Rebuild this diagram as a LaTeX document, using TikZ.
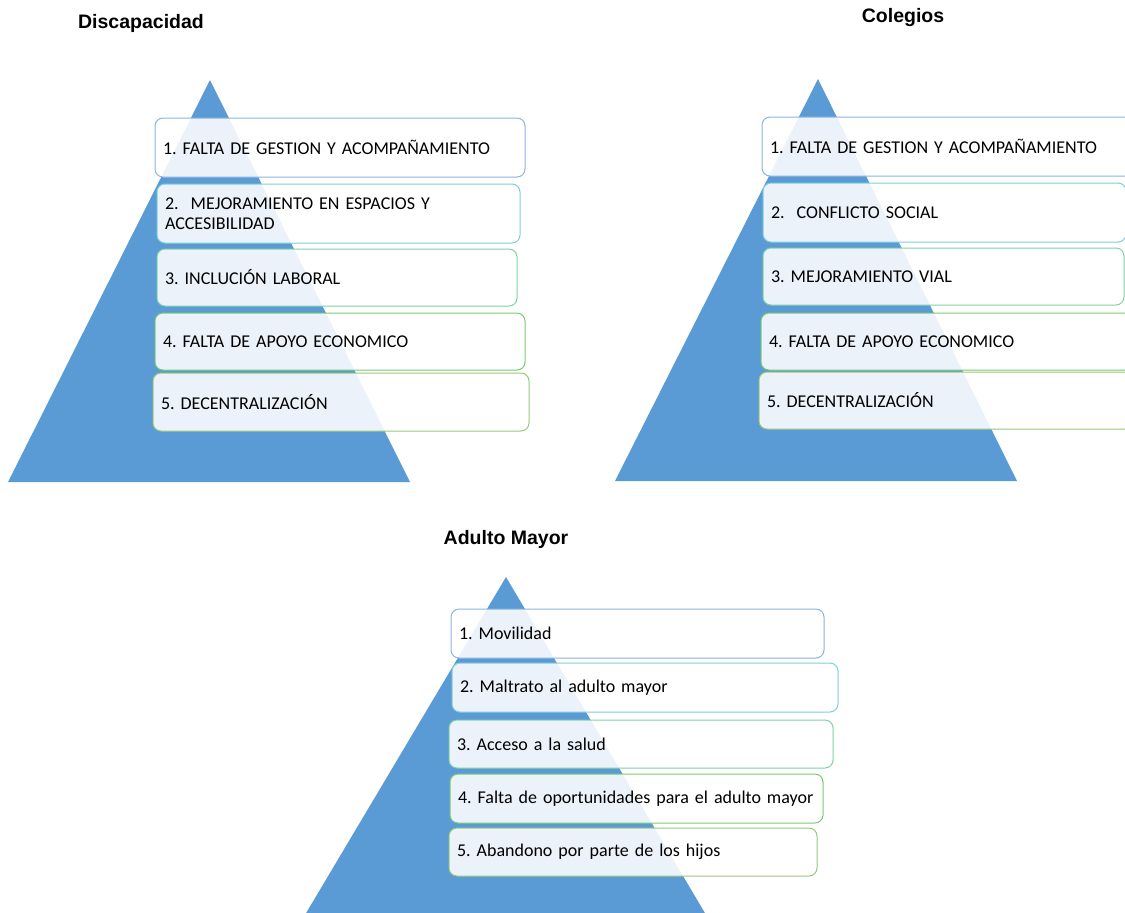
\documentclass[tikz,border=0pt]{standalone}
\usepackage{fontspec}
\setmainfont{Carlito}
\newfontfamily\titlefont{Liberation Sans}
\usetikzlibrary{positioning}
\definecolor{pyBlue}{HTML}{5B9BD5}
\definecolor{pyEdgeA}{HTML}{8DB3E2}
\definecolor{pyEdgeB}{HTML}{7FCFD8}
\definecolor{pyEdgeC}{HTML}{7DD3A6}
\definecolor{pyEdgeD}{HTML}{79CB72}
\definecolor{pyEdgeE}{HTML}{9AC87A}
\newcommand\pyboxfont{\fontsize{18}{20}\selectfont\frenchspacing\spaceskip=0.15em\relax}
\tikzset{
  py-tri/.style={fill=pyBlue, draw=none},
  py-box/.style={
    draw, line width=1pt, rounded corners=8pt,
    fill=white, fill opacity=0.88, text opacity=1,
    font=\pyboxfont, align=left, inner xsep=8pt, inner ysep=3pt
  },
  py-a/.style={py-box, draw=pyEdgeA},
  py-b/.style={py-box, draw=pyEdgeB},
  py-c/.style={py-box, draw=pyEdgeC},
  py-d/.style={py-box, draw=pyEdgeD},
  py-e/.style={py-box, draw=pyEdgeE},
  py-title/.style={font=\titlefont\bfseries\fontsize{19.5}{22}\selectfont}
}

\begin{document}
\begin{tikzpicture}[x=1pt, y=-1pt]
\useasboundingbox (0,0) rectangle (1125,913);
\clip (0,0) rectangle (1125,913);

% Discapacidad
\node[py-title] (tdis) at (141,23) {Discapacidad};
\fill[py-tri] (210,80) -- (410,482) -- (8,482) -- cycle;
\node[py-a, minimum width=370pt, minimum height=59pt, text width=354pt] (d1) at (340,147.5)
  {1. FALTA DE GESTION Y ACOMPAÑAMIENTO};
\node[py-b, minimum width=363pt, minimum height=59pt, text width=347pt] (d2) at (338.5,213.5)
  {2.\ \ MEJORAMIENTO EN ESPACIOS Y\\ACCESIBILIDAD};
\node[py-c, minimum width=360pt, minimum height=57pt, text width=344pt] (d3) at (337,277.5)
  {3. INCLUCIÓN LABORAL};
\node[py-d, minimum width=370pt, minimum height=57pt, text width=354pt] (d4) at (340,341.5)
  {4. FALTA DE APOYO ECONOMICO};
\node[py-e, minimum width=376pt, minimum height=58pt, text width=360pt] (d5) at (341,402)
  {5. DECENTRALIZACIÓN};

% Colegios
\node[py-title] (tcol) at (903,17) {Colegios};
\fill[py-tri] (818,79) -- (1017,481) -- (615,481) -- cycle;
\node[py-a, minimum width=372pt, minimum height=59pt, text width=356pt] (c1) at (948,146.5)
  {1. FALTA DE GESTION Y ACOMPAÑAMIENTO};
\node[py-b, minimum width=363pt, minimum height=59pt, text width=347pt] (c2) at (944.5,212.5)
  {2.\ \ CONFLICTO SOCIAL};
\node[py-c, minimum width=361pt, minimum height=57pt, text width=345pt] (c3) at (943.5,276.5)
  {3. MEJORAMIENTO VIAL};
\node[py-d, minimum width=372pt, minimum height=57pt, text width=356pt] (c4) at (947,341.5)
  {4. FALTA DE APOYO ECONOMICO};
\node[py-e, minimum width=374pt, minimum height=57pt, text width=358pt] (c5) at (946,400.5)
  {5. DECENTRALIZACIÓN};

% Adulto Mayor
\node[py-title] (tadm) at (506,539) {Adulto Mayor};
\fill[py-tri] (506,577) -- (715,930) -- (296,930) -- cycle;
\node[py-a, minimum width=373pt, minimum height=49pt, text width=357pt] (a1) at (637.5,633.5)
  {1. Movilidad};
\node[py-b, minimum width=386pt, minimum height=49pt, text width=370pt] (a2) at (645,687.5)
  {2. Maltrato al adulto mayor};
\node[py-c, minimum width=384pt, minimum height=48pt, text width=368pt] (a3) at (641,744)
  {3. Acceso a la salud};
\node[py-d, minimum width=373pt, minimum height=49pt, text width=357pt] (a4) at (636.5,798.5)
  {4. Falta de oportunidades para el adulto mayor};
\node[py-e, minimum width=368pt, minimum height=48pt, text width=352pt] (a5) at (633,852)
  {5. Abandono por parte de los hijos};
\end{tikzpicture}
\end{document}
